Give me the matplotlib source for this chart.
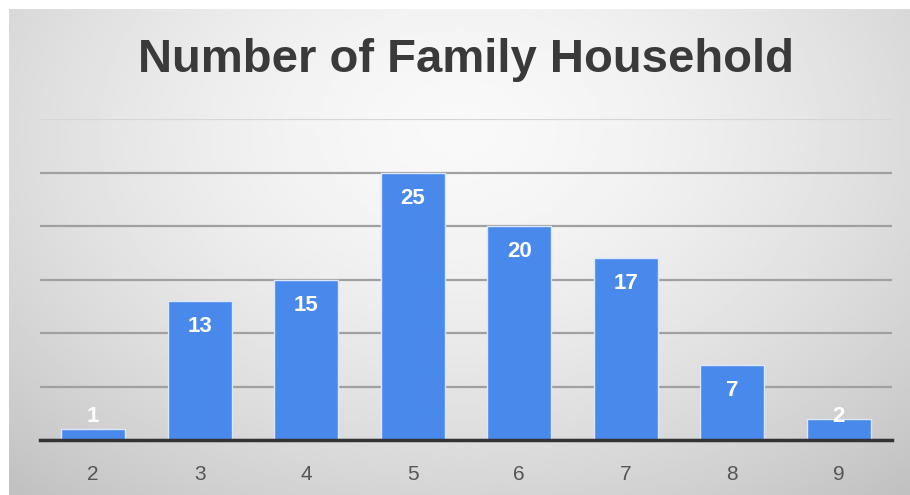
import numpy as np
import matplotlib
matplotlib.use("Agg")
import matplotlib.pyplot as plt

# ---- data ---------------------------------------------------------------
members = ["2", "3", "4", "5", "6", "7", "8", "9"]
households = [1, 13, 15, 25, 20, 17, 7, 2]
y_ticks = [0, 5, 10, 15, 20, 25, 30]

W, H = 910, 495
fig = plt.figure(figsize=(W / 100, H / 100), dpi=100)
fig.patch.set_facecolor("white")

# ---- gradient backdrop (radial, light at top centre) ---------------------
bg = fig.add_axes([9 / W, 0, 1 - 9 / W, 1 - 9 / H])
gx, gy = np.meshgrid(np.linspace(0, 1, 400), np.linspace(0, 1, 220))
r = np.sqrt(((gx - 0.5) / 0.75) ** 2 + ((gy - 0.25) / 1.0) ** 2)
shade = 0.975 - 0.22 * np.clip(r, 0, 1) ** 1.6
bg.imshow(shade, cmap="gray", vmin=0, vmax=1, aspect="auto",
          extent=(0, 1, 1, 0), interpolation="bilinear")
bg.set_axis_off()

# ---- chart --------------------------------------------------------------
ax = fig.add_axes([40 / W, (H - 440) / H, (892 - 40) / W, (440 - 119) / H])
ax.set_facecolor("none")
x = np.arange(len(members))
ax.bar(x, households, width=0.6, color="#4a89ec", edgecolor="#dbe7fb",
       linewidth=1.0, zorder=3)

for xi, v in zip(x, households):
    ax.text(xi, max(v - 2.4, 2.2), str(v), ha="center", va="center",
            color="white", fontsize=16, fontweight="bold",
            family="Liberation Sans", zorder=4)

ax.set_xlim(-0.5, len(members) - 0.5)
ax.set_ylim(y_ticks[0], y_ticks[-1])
ax.set_yticks(y_ticks)
ax.yaxis.grid(True, color="#a0a0a0", lw=1.6, zorder=0)
ax.yaxis.get_gridlines()[-1].set_color("#d6d6d6")
ax.set_axisbelow(True)
ax.tick_params(axis="y", left=False, labelleft=False)
ax.tick_params(axis="x", length=0, pad=18, labelsize=15, labelcolor="#555555")
ax.set_xticks(x)
ax.set_xticklabels(members, family="Liberation Sans")
for s in ["top", "right", "left"]:
    ax.spines[s].set_visible(False)
ax.spines["bottom"].set_color("#333333")
ax.spines["bottom"].set_linewidth(2.5)
ax.spines["bottom"].set_zorder(5)

fig.text(466 / W, 1 - 60 / H, "Number of Family Household", ha="center",
         va="center", fontsize=34, fontweight="bold", color="#3a3a3a",
         family="Liberation Sans")

fig.savefig("out.png", dpi=100)
